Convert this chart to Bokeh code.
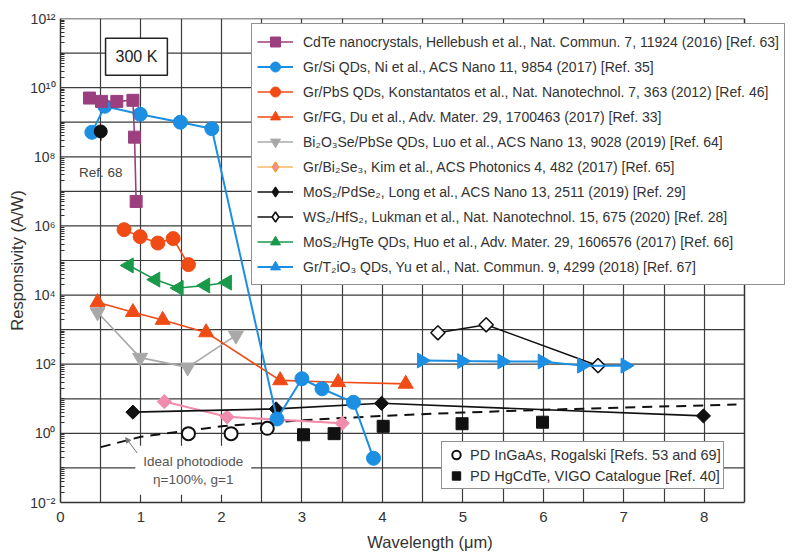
import numpy as np
from bokeh.plotting import figure
from bokeh.models import (Range1d, FixedTicker, Legend, LegendItem, Label, Arrow, Span,
                          NormalHead, CustomJSTickFormatter, ColumnDataSource)
from bokeh.embed import file_html
from bokeh.resources import INLINE

# ---------------- data (wavelength in um, responsivity in A/W) ----------------
cdte_x = [0.36, 0.51, 0.70, 0.90, 0.92, 0.94]
cdte_y = [5.0e9, 4.0e9, 4.0e9, 4.3e9, 3.7e8, 5.1e6]

grsi_x = [0.39, 0.55, 0.99, 1.49, 1.88, 2.69, 3.00, 3.25, 3.64, 3.89]
grsi_y = [5.1e8, 2.9e9, 1.7e9, 1.0e9, 6.5e8, 2.6, 38.0, 19.5, 7.9, 0.19]

grpbs_x = [0.79, 0.99, 1.21, 1.40, 1.59]
grpbs_y = [7.8e5, 4.9e5, 3.2e5, 4.3e5, 7.6e4]

grfg_x = [0.46, 0.90, 1.27, 1.81, 2.73, 3.45, 4.29]
grfg_y = [6200, 3200, 1900, 830, 34, 30, 27]

bise_x = [0.46, 0.99, 1.58, 2.18]
bise_y = [3200, 155, 81, 680]

grbise_x = [1.29, 2.07, 3.50]
grbise_y = [8.3, 3.0, 1.95]

mospd_x = [0.90, 2.68, 3.99, 7.99]
mospd_y = [4.1, 5.1, 7.4, 3.2]

wshf_x = [4.69, 5.29, 6.68]
wshf_y = [810, 1380, 91]

moshg_x = [0.85, 1.18, 1.47, 1.80, 2.07]
moshg_y = [7.2e4, 2.8e4, 1.6e4, 1.9e4, 2.3e4]

grti_x = [4.49, 4.99, 5.49, 5.99, 6.48, 7.02]
grti_y = [128, 123, 120, 120, 91, 91]

ref68_x = [0.50]
ref68_y = [5.4e8]
ref68_low = [2.9e8]

ingaas_x = [1.59, 2.12, 2.57]
ingaas_y = [0.98, 0.98, 1.4]

hgcdte_x = [3.02, 3.40, 4.01, 4.99, 5.99]
hgcdte_y = [0.91, 0.98, 1.6, 1.9, 2.1]

ideal_x = [0.5, 1.0, 2.0, 3.0, 4.0, 5.0, 6.0, 7.0, 8.0, 8.4]
ideal_y = [0.40, 0.80, 1.6, 2.4, 3.2, 4.0, 4.8, 5.6, 6.4, 6.8]

x_tick_values = [0, 1, 2, 3, 4, 5, 6, 7, 8]
y_tick_values = [1e-2, 1e0, 1e2, 1e4, 1e6, 1e8, 1e10, 1e12]
y_tick_labels = ["10⁻²", "10⁰", "10²", "10⁴", "10⁶", "10⁸", "10¹⁰", "10¹²"]

labels = [
    "CdTe nanocrystals, Hellebush et al., Nat. Commun. 7, 11924 (2016) [Ref. 63]",
    "Gr/Si QDs, Ni et al., ACS Nano 11, 9854 (2017) [Ref. 35]",
    "Gr/PbS QDs, Konstantatos et al., Nat. Nanotechnol. 7, 363 (2012) [Ref. 46]",
    "Gr/FG, Du et al., Adv. Mater. 29, 1700463 (2017) [Ref. 33]",
    "Bi₂O₃Se/PbSe QDs, Luo et al., ACS Nano 13, 9028 (2019) [Ref. 64]",
    "Gr/Bi₂Se₃, Kim et al., ACS Photonics 4, 482 (2017) [Ref. 65]",
    "MoS₂/PdSe₂, Long et al., ACS Nano 13, 2511 (2019) [Ref. 29]",
    "WS₂/HfS₂, Lukman et al., Nat. Nanotechnol. 15, 675 (2020) [Ref. 28]",
    "MoS₂/HgTe QDs, Huo et al., Adv. Mater. 29, 1606576 (2017) [Ref. 66]",
    "Gr/T₂iO₃ QDs, Yu et al., Nat. Commun. 9, 4299 (2018) [Ref. 67]",
]
pd_labels = ["PD InGaAs, Rogalski [Refs. 53 and 69]",
             "PD HgCdTe, VIGO Catalogue [Ref. 40]"]

FONT = "Liberation Sans"
PURPLE = "#9c3f7f"
BLUE = "#1c8fe3"
ORANGE = "#f04b15"
GRAY = "#a8a8a8"
PINK = "#f28cad"
LORANGE = "#f7941d"
BLACK = "#111111"
GREEN = "#19994a"
GRID = "#3c3c3c"
EDGE = "#333333"

X_MAX = 8.5                      # right edge of the drawn plot box
# the canvas frame runs to the window edge so the legend can overhang the box
FRAME_W, BOX_W = 739, 684
p = figure(width=799, height=555, x_range=Range1d(0, X_MAX * FRAME_W / BOX_W),
           y_range=Range1d(1e-2, 1e12),
           y_axis_type="log", output_backend="svg", toolbar_location=None,
           min_border_left=60, min_border_right=0, min_border_top=18, min_border_bottom=53)
p.background_fill_color = "white"
p.border_fill_color = "white"
p.outline_line_color = None

# axes
p.xaxis.ticker = FixedTicker(ticks=x_tick_values, minor_ticks=[])
p.xaxis.bounds = (0, X_MAX)
p.yaxis.ticker = FixedTicker(
    ticks=y_tick_values,
    minor_ticks=[k * 10.0 ** e for e in range(-2, 12) for k in range(1, 10) if not (k == 1 and e % 2 == 0)])
p.yaxis.formatter = CustomJSTickFormatter(args=dict(vals=y_tick_values, labs=y_tick_labels), code="""
    for (let i = 0; i < vals.length; i++) {
        if (Math.abs(Math.log10(vals[i]) - Math.log10(tick)) < 1e-6) return labs[i];
    }
    return '';
""")
for ax in (p.xaxis[0], p.yaxis[0]):
    ax.axis_line_color = EDGE
    ax.axis_line_width = 1.5
    ax.major_tick_in = 0
    ax.major_tick_out = 0
    ax.major_label_text_font = FONT
    ax.major_label_text_color = EDGE
    ax.axis_label_text_font = FONT
    ax.axis_label_text_font_size = "16.5px"
    ax.axis_label_text_font_style = "normal"
    ax.axis_label_text_color = EDGE
p.xaxis.major_label_text_font_size = "15px"
p.yaxis.major_label_text_font_size = "14px"
p.yaxis.minor_tick_in = 4
p.yaxis.minor_tick_out = 0
p.yaxis.minor_tick_line_color = EDGE
p.xaxis.major_label_standoff = 9
p.xaxis.axis_label_standoff = 8
p.yaxis.major_label_standoff = 5
p.yaxis.axis_label_standoff = 1
p.xaxis.axis_label = "Wavelength (μm)"
p.yaxis.axis_label = "Responsivity (A/W)"

# grid: vertical lines every 0.5 um, horizontal lines every decade (inside the box only)
p.xgrid.ticker = FixedTicker(ticks=[0.5 * i for i in range(1, 17)])
p.xgrid.grid_line_color = GRID
p.xgrid.grid_line_width = 1.2
p.ygrid.visible = False
decades = [10.0 ** e for e in range(-1, 12)]
p.segment(x0=[0] * len(decades), y0=decades, x1=[X_MAX] * len(decades), y1=decades,
          line_color=GRID, line_width=1.2, level="underlay")
# box edges (top and right)
p.segment(x0=[0], y0=[1e12], x1=[X_MAX], y1=[1e12], line_color=EDGE, line_width=1.5,
          level="underlay")
p.add_layout(Span(location=X_MAX, dimension="height", line_color=EDGE, line_width=1.5,
                  level="underlay"))

# ideal photodiode
p.line(ideal_x, ideal_y, line_color=BLACK, line_width=2, line_dash="10 7")


def series(x, y, color, marker, size, fill=None, angle=0.0, lw=1.6, mline=None, mlw=1.0,
           diamond=False, leg_line=None, leg_mline=None):
    """Draw a line+marker series. Diamonds are rotated squares; a plain diamond
    marker is drawn underneath them (hidden) so the legend shows a diamond."""
    src = ColumnDataSource(dict(x=x, y=y))
    fc = fill if fill is not None else color
    mc = mline if mline is not None else color
    leg_l = None
    if leg_line is not None:
        leg_l = p.line("x", "y", source=src, line_color=leg_line, line_width=1.0)
    l = p.line("x", "y", source=src, line_color=color, line_width=lw)
    leg_s = None
    if diamond:
        leg_s = p.scatter("x", "y", source=src, marker="diamond", size=11, fill_color=fc,
                          line_color=leg_mline if leg_mline is not None else mc,
                          line_width=max(mlw, 1.2))
    s = p.scatter("x", "y", source=src, marker=marker, size=size, angle=angle,
                  fill_color=fc, line_color=mc, line_width=mlw)
    return [leg_l or l, leg_s or s]


r_bise = series(bise_x, bise_y, GRAY, "inverted_triangle", 15)
r_grfg = series(grfg_x, grfg_y, ORANGE, "triangle", 15)
r_grbise = series(grbise_x, grbise_y, PINK, "square", 10, angle=np.pi / 4, lw=2,
                  diamond=True, leg_line=LORANGE, leg_mline=LORANGE)
r_mospd = series(mospd_x, mospd_y, BLACK, "square", 10, angle=np.pi / 4, diamond=True)
r_wshf = series(wshf_x, wshf_y, BLACK, "square", 10, fill="white", angle=np.pi / 4, mlw=1.6,
                diamond=True)
r_grpbs = series(grpbs_x, grpbs_y, ORANGE, "circle", 14)
r_moshg = series(moshg_x, moshg_y, GREEN, "triangle", 15, angle=np.pi / 2)
r_grsi = series(grsi_x, grsi_y, BLUE, "circle", 14, lw=2)
r_cdte = series(cdte_x, cdte_y, PURPLE, "square", 12)
r_grti = series(grti_x, grti_y, BLUE, "triangle", 15, angle=-np.pi / 2, lw=2)

r_ingaas = p.scatter(ingaas_x, ingaas_y, marker="circle", size=13, fill_color="white",
                     line_color=BLACK, line_width=2)
r_hgcdte = p.scatter(hgcdte_x, hgcdte_y, marker="square", size=12, fill_color=BLACK,
                     line_color=BLACK)

# Ref. 68
p.segment(ref68_x, ref68_y, ref68_x, ref68_low, line_color=BLACK, line_width=1.5)
p.scatter(ref68_x, ref68_y, marker="circle", size=13, fill_color=BLACK, line_color=BLACK)

# legends
series_renderers = [r_cdte, r_grsi, r_grpbs, r_grfg, r_bise, r_grbise, r_mospd, r_wshf,
                    r_moshg, r_grti]
items = [LegendItem(label=lab, renderers=rs) for lab, rs in zip(labels, series_renderers)]
leg = Legend(items=items, location=(191, 217), orientation="vertical",
             glyph_width=36, glyph_height=25, spacing=0, padding=5, margin=0,
             label_standoff=10, label_text_font=FONT, label_text_font_size="14px",
             label_text_color=EDGE, label_height=20,
             border_line_color="#222222", border_line_width=1.2,
             background_fill_color="white", background_fill_alpha=1.0)
p.add_layout(leg, "center")

leg2 = Legend(items=[LegendItem(label=pd_labels[0], renderers=[r_ingaas]),
                     LegendItem(label=pd_labels[1], renderers=[r_hgcdte])],
              location=(381, 13), orientation="vertical",
              glyph_width=24, glyph_height=21, spacing=0, padding=2, margin=0,
              label_standoff=2, label_text_font=FONT, label_text_font_size="14.5px",
              label_text_color=EDGE, label_height=18,
              border_line_color="#222222", border_line_width=1.2,
              background_fill_color="white", background_fill_alpha=1.0)
p.add_layout(leg2, "center")

# annotations
p.add_layout(Label(x=0.944, y=7.8e10, text="300 K", text_align="center", text_baseline="middle",
                   text_font=FONT, text_font_size="16px", text_color="#222222",
                   background_fill_color="white", border_line_color="#222222",
                   border_line_width=1.5, padding=10))
p.add_layout(Label(x=0.5, y=3.5e7, text="Ref. 68", text_align="center", text_baseline="middle",
                   text_font=FONT, text_font_size="13.5px", text_color="#444444"))
p.add_layout(Label(x=1.65, y=0.085, text="Ideal photodiode\nη=100%, g=1", text_align="center",
                   text_baseline="middle", text_font=FONT, text_font_size="13.5px",
                   text_color="#555555", background_fill_color="white", padding=8))
p.add_layout(Arrow(end=NormalHead(size=5, fill_color="#777777", line_color="#777777"),
                   x_start=0.953, y_start=0.27, x_end=0.81, y_end=0.75,
                   line_color="#777777", line_width=1))

open("out.html", "w").write(file_html(p, INLINE))
